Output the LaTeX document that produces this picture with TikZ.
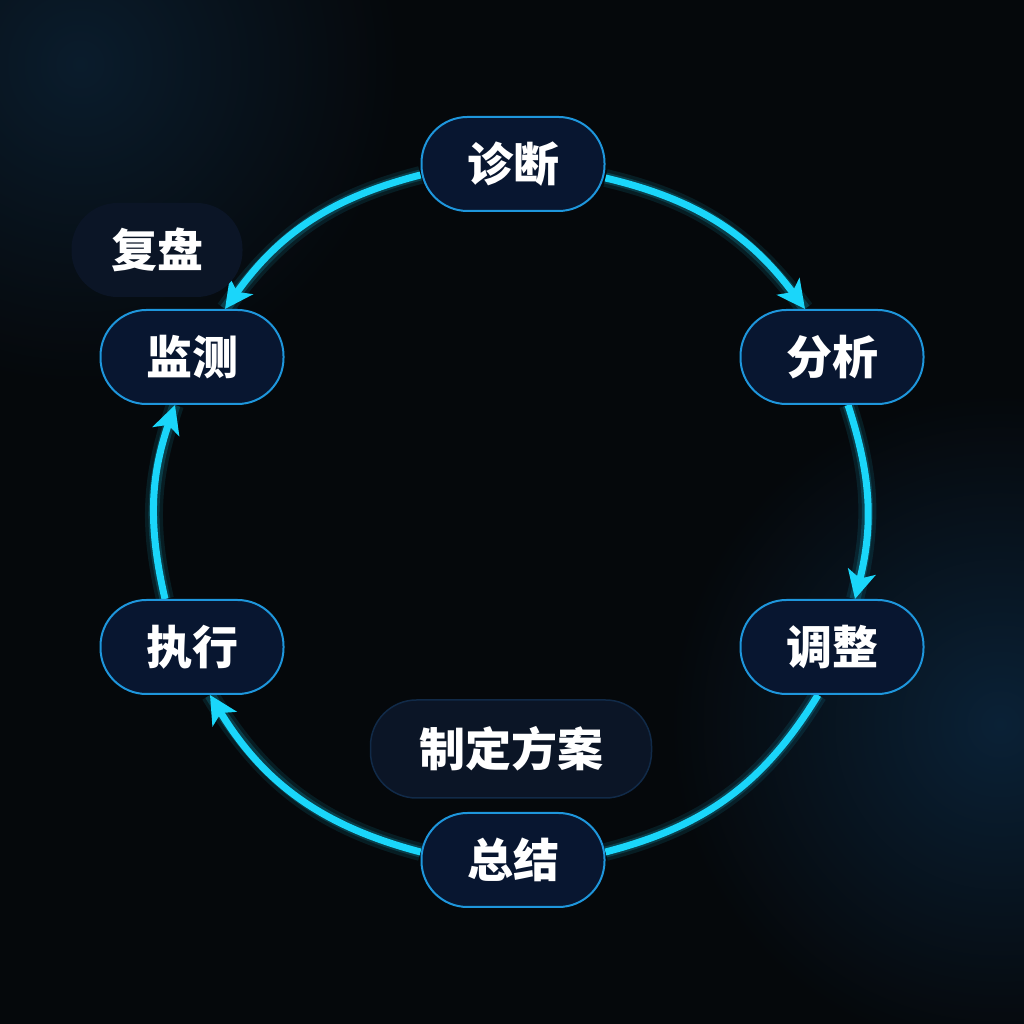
\documentclass[tikz,border=0pt]{standalone}
\usepackage{fontspec}
\newfontfamily\cjk{Noto Sans CJK SC}
\usetikzlibrary{arrows.meta,calc}
\pgfdeclarelayer{bglayer}
\pgfdeclarelayer{linelayer}
\pgfsetlayers{bglayer,linelayer,main}
\definecolor{bgc}{HTML}{05080B}
\definecolor{glowa}{HTML}{0A1C2C}
\definecolor{glowb}{HTML}{0A2136}
\definecolor{nodefill}{HTML}{081630}
\definecolor{nodeedge}{HTML}{1E96DC}
\definecolor{softfill}{HTML}{0B1526}
\definecolor{softedge}{HTML}{112A48}
\definecolor{flow}{HTML}{1AD6FA}
\tikzset{
  stage/.style={draw=nodeedge, line width=2pt, fill=nodefill, rounded corners=46pt,
    minimum width=183pt, minimum height=94pt, inner sep=0pt,
    font=\cjk\bfseries\fontsize{46}{46}\selectfont, text=white},
  note/.style={draw=softedge, line width=1.5pt, fill=softfill, rounded corners=46pt,
    minimum height=94pt, inner sep=0pt,
    font=\cjk\bfseries\fontsize{46}{46}\selectfont, text=white},
  halo/.style={draw=flow, opacity=0.10, line width=18pt},
  halo2/.style={draw=flow, opacity=0.18, line width=11pt},
  flowline/.style={draw=flow, line width=7pt},
  flowarrow/.style={flowline, -{Stealth[length=28pt,width=28pt,inset=7pt]}},
}
\begin{document}
\begin{tikzpicture}[x=1pt,y=1pt]
\useasboundingbox (0,0) rectangle (1024,1024);

% nodes
\node[stage] (zd) at (513,860) {诊断};
\node[stage] (fx) at (832,667) {分析};
\node[stage] (tz) at (832,377) {调整};
\node[stage] (zj) at (513,164) {总结};
\node[stage] (zx) at (192,377) {执行};
\node[stage] (jc) at (192,667) {监测};
\node[note, minimum width=171pt, draw=none] (fp) at (157,774) {复盘};
\node[note, minimum width=281pt, minimum height=98pt] (zd2) at (511,275) {制定方案};

\begin{pgfonlayer}{bglayer}
\fill[bgc] (0,0) rectangle (1024,1024);
\begin{scope}
\clip (0,0) rectangle (1024,1024);
\shade[inner color=glowa, outer color=bgc] (80,960) circle (320);
\shade[inner color=glowb, outer color=bgc] (1000,300) circle (330);
\end{scope}
\end{pgfonlayer}

% coordinates on borders
\coordinate (a1) at ([yshift=-14pt]zd.east);
\coordinate (b1) at ([xshift=-27pt]fx.north);
\coordinate (a2) at ([xshift=16pt]fx.south);
\coordinate (b2) at ([xshift=23pt]tz.north);
\coordinate (a3) at ([xshift=-14pt]tz.south);
\coordinate (b3) at ([yshift=8pt]zj.east);
\coordinate (a4) at ([yshift=8pt]zj.west);
\coordinate (b4) at ([xshift=18pt]zx.south);
\coordinate (a5) at ([xshift=-27pt]zx.north);
\coordinate (b5) at ([xshift=-17pt]jc.south);
\coordinate (a6) at ([yshift=-11pt]zd.west);
\coordinate (b6) at ([xshift=33pt]jc.north);

\begin{pgfonlayer}{linelayer}
% glow
\draw[halo] (a1) to[bend left=20] (b1);
\draw[halo] (a2) to[bend left=16] (b2);
\draw[halo] (a3) to[bend left=22] (b3);
\draw[halo] (a4) to[bend left=22] (b4);
\draw[halo] (a5) to[bend left=16] (b5);
\draw[halo] (a6) to[bend right=20] (b6);
\draw[halo2] (a1) to[bend left=20] (b1);
\draw[halo2] (a2) to[bend left=16] (b2);
\draw[halo2] (a3) to[bend left=22] (b3);
\draw[halo2] (a4) to[bend left=22] (b4);
\draw[halo2] (a5) to[bend left=16] (b5);
\draw[halo2] (a6) to[bend right=20] (b6);
% connectors
\draw[flowarrow] (a1) to[bend left=20] (b1);
\draw[flowarrow] (a2) to[bend left=16] (b2);
\draw[flowline] (a3) to[bend left=22] (b3);
\draw[flowarrow] (a4) to[bend left=22] (b4);
\draw[flowarrow] (a5) to[bend left=16] (b5);
\draw[flowarrow] (a6) to[bend right=20] (b6);
\end{pgfonlayer}
\end{tikzpicture}
\end{document}
